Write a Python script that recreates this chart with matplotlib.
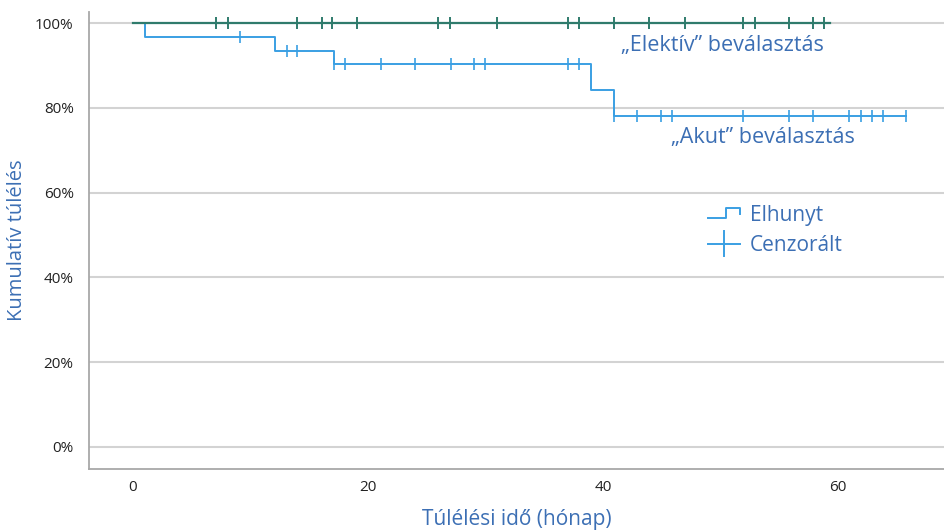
import matplotlib
matplotlib.use("Agg")
import matplotlib.pyplot as plt
from matplotlib.lines import Line2D
from matplotlib.legend_handler import HandlerBase

plt.rcParams['font.family'] = ['Open Sans', 'DejaVu Sans']

# Elektív group: no events, survival stays at 100%
elektiv_end = 59.3
elektiv_censor = [7.1, 8.1, 14.0, 16.1, 17.0, 19.1, 26.0, 27.0, 31.0, 37.0,
                  38.0, 40.9, 43.9, 47.0, 51.9, 52.9, 55.8, 57.9, 58.8]

# Akut group: event times and survival after each event
akut_event_t = [0, 1.1, 12.1, 17.1, 39.0, 40.9]
akut_event_s = [100, 96.8, 93.5, 90.3, 84.3, 78.2]
akut_end = 65.8
akut_censor = [9.1, 13.1, 14.0, 17.1, 18.1, 21.1, 24.0, 27.1, 29.0, 30.0,
               37.0, 38.0, 40.9, 42.9, 44.9, 45.9, 51.9, 55.8, 57.9, 60.9,
               61.9, 62.9, 63.8, 65.8]

x_ticks = [0, 20, 40, 60]
y_ticks = [0, 20, 40, 60, 80, 100]

c_akut = '#3a9fe3'
c_elek = '#2f7b6c'
c_text = '#3c6fb4'

fig = plt.figure(figsize=(9.44, 5.31), dpi=100)
ax = fig.add_axes([0.0943, 0.1168, 0.9057, 0.8602])

def surv_at(t, ts, ss):
    s = ss[0]
    for tt, sv in zip(ts, ss):
        if t >= tt:
            s = sv
    return s

# grid
for y in y_ticks:
    ax.axhline(y, color='#d3d3d3', lw=1.5, zorder=0)

# Akut
xs = akut_event_t + [akut_end]
ys = akut_event_s + [akut_event_s[-1]]
ax.step(xs, ys, where='post', color=c_akut, lw=1.4, zorder=2)
ax.plot(akut_censor, [surv_at(t, akut_event_t, akut_event_s) for t in akut_censor],
        ls='none', marker='|', ms=8, mew=1.2, color=c_akut, zorder=3)

# Elektív
ax.plot([0, elektiv_end], [100, 100], color=c_elek, lw=1.6, zorder=4)
ax.plot(elektiv_censor, [100] * len(elektiv_censor), ls='none', marker='|',
        ms=8, mew=1.4, color=c_elek, zorder=5)

ax.set_xlim(-3.7, 69)
ax.set_ylim(-5.2, 102.6)
ax.set_xticks(x_ticks)
ax.set_yticks(y_ticks)
ax.set_yticklabels([f'{v}%' for v in y_ticks])
ax.tick_params(length=0, labelsize=11, colors='#222222', pad=8)
ax.tick_params(axis='y', pad=11)
for s in ['top', 'right']:
    ax.spines[s].set_visible(False)
for s in ['left', 'bottom']:
    ax.spines[s].set_color('#a8a8a8')
    ax.spines[s].set_linewidth(1.3)

ax.set_xlabel('Túlélési idő (hónap)', fontsize=15, color=c_text, labelpad=10)
ax.set_ylabel('Kumulatív túlélés', fontsize=14.5, color=c_text, labelpad=6)

ax.text(50.2, 94.8, '„Elektív” beválasztás', fontsize=15.5, color=c_text,
        ha='center', va='center')
ax.text(53.6, 73.0, '„Akut” beválasztás', fontsize=15.5, color=c_text,
        ha='center', va='center')


class StepHandler(HandlerBase):
    def create_artists(self, legend, orig, xd, yd, w, h, fs, trans):
        xs_ = [xd, xd + w * 0.55, xd + w * 0.55, xd + w, xd + w]
        ys_ = [yd + h * 0.2, yd + h * 0.2, yd + h * 0.85, yd + h * 0.85, yd + h * 0.45]
        l = Line2D(xs_, ys_, color=c_akut, lw=1.4, transform=trans)
        return [l]


class PlusHandler(HandlerBase):
    def create_artists(self, legend, orig, xd, yd, w, h, fs, trans):
        l1 = Line2D([xd, xd + w], [yd + h / 2, yd + h / 2], color=c_akut, lw=1.4,
                    transform=trans)
        l2 = Line2D([xd + w / 2, xd + w / 2], [yd - h * 0.35, yd + h * 1.35],
                    color=c_akut, lw=1.4, transform=trans)
        return [l1, l2]


h1 = Line2D([], [], color=c_akut)
h2 = Line2D([], [], color=c_akut, marker='+')
leg = ax.legend([h1, h2], ['Elhunyt', 'Cenzorált'],
                handler_map={h1: StepHandler(), h2: PlusHandler()},
                loc='upper left', bbox_to_anchor=(0.702, 0.62), frameon=False,
                fontsize=15, handlelength=1.55, handletextpad=0.45, labelspacing=0.45)
for t in leg.get_texts():
    t.set_color(c_text)

fig.savefig('out.png', dpi=100)
